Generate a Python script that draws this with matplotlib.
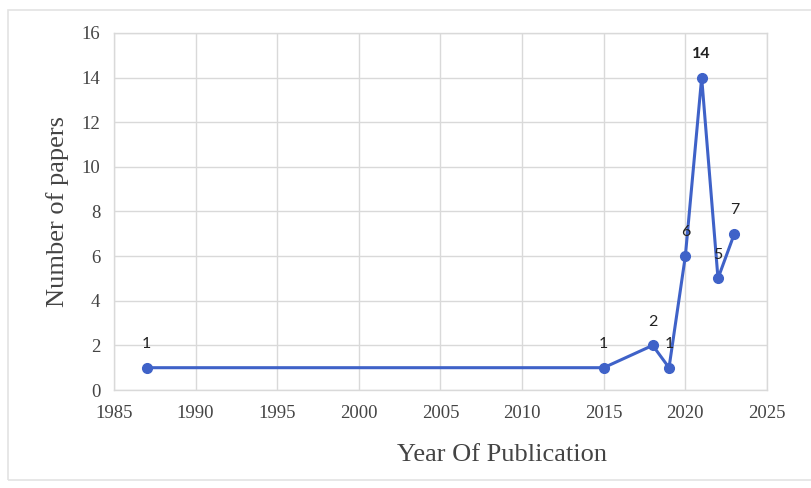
import matplotlib.pyplot as plt
from matplotlib.patches import Rectangle

# Papers published per year
years = [1987, 2015, 2018, 2019, 2020, 2021, 2022, 2023]
papers = [1, 1, 2, 1, 6, 14, 5, 7]

x_ticks = [1985, 1990, 1995, 2000, 2005, 2010, 2015, 2020, 2025]
y_ticks = [0, 2, 4, 6, 8, 10, 12, 14, 16]

line_color = '#3f62c8'
grid_color = '#d9d9d9'
serif = ['Liberation Serif', 'DejaVu Serif']

fig = plt.figure(figsize=(8.11, 4.88), dpi=100)
ax = fig.add_axes([0.1406, 0.2008, 0.8051, 0.7316])

# light outer frame around the chart
fig.patches.append(Rectangle((8 / 811, 8 / 488), 1.0, 1 - 18 / 488,
                             transform=fig.transFigure, fill=False,
                             edgecolor='#e3e3e3', linewidth=1.2))

ax.plot(years, papers, color=line_color, linewidth=2.2, marker='o',
        markersize=7, zorder=3)

for yr, n in zip(years, papers):
    ax.annotate(str(n), xy=(yr, n), xytext=(0, 12), textcoords='offset points',
                ha='center', va='bottom', fontsize=11.5, color='#222222',
                family=['Lato', 'DejaVu Sans'],
                fontweight='bold' if n == 14 else 'normal')

ax.set_xlim(1985, 2025)
ax.set_ylim(0, 16)
ax.set_xticks(x_ticks)
ax.set_yticks(y_ticks)
ax.grid(True, color=grid_color, linewidth=1)
ax.set_axisbelow(True)
ax.tick_params(length=0, labelsize=13.5, colors='#444444')
ax.tick_params(axis='x', pad=11)
ax.tick_params(axis='y', pad=10)
for lbl in ax.get_xticklabels() + ax.get_yticklabels():
    lbl.set_family(serif)
for s in ax.spines.values():
    s.set_color(grid_color)
    s.set_linewidth(1)

# axis titles placed in figure coordinates
fig.text(502 / 811, 1 - 455 / 488, 'Year Of Publication', fontsize=19,
         color='#444444', family=serif, ha='center', va='center')
fig.text(58 / 811, 1 - 212 / 488, 'Number of papers', fontsize=19,
         color='#444444', family=serif, ha='center', va='center',
         rotation=90)

plt.savefig('out.png', dpi=100)
